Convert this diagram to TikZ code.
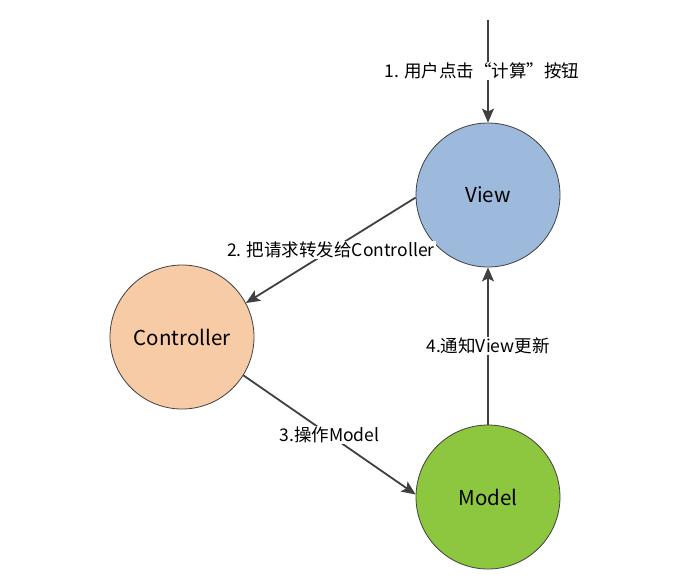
\documentclass[tikz,border=0pt]{standalone}
\usepackage{fontspec}
\setmainfont{Noto Sans CJK SC}
\usetikzlibrary{arrows.meta}
\definecolor{viewblue}{HTML}{9DBADC}
\definecolor{ctrlpeach}{HTML}{F7CBA6}
\definecolor{modelgreen}{HTML}{8DC73F}
\definecolor{linegray}{HTML}{404040}

\begin{document}
\begin{tikzpicture}[x=1pt,y=-1pt,
    part/.style={circle,draw=linegray,line width=0.8pt,minimum size=144pt,inner sep=0pt,
      font=\fontsize{20.5}{24}\selectfont},
    lbl/.style={fill=white,inner sep=1pt,font=\fontsize{17.5}{21}\selectfont},
    every edge/.style={draw=linegray,line width=1.8pt},
    >={Stealth[length=14pt,width=12pt,inset=3pt]}]
   \useasboundingbox (0,0) rectangle (684,582);
   \coordinate (start) at (488,20);
   \node [part,fill=viewblue] (view) at (488,195) {View};
   \node [part,fill=ctrlpeach] (controller) at (182,337) {Controller};
   \node [part,fill=modelgreen] (model) at (488,497) {Model};
    \path[->]
    (start) edge node [lbl,xshift=-6pt] {1. 用户点击“计算”按钮} (view.north)
    (view.182) edge node [lbl] {2. 把请求转发给Controller} (controller.28)
    (controller.-32) edge node [lbl] {3.操作Model} (model.178)
    (model.north) edge node [lbl] {4.通知View更新} (view.south);
\end{tikzpicture}
\end{document}
